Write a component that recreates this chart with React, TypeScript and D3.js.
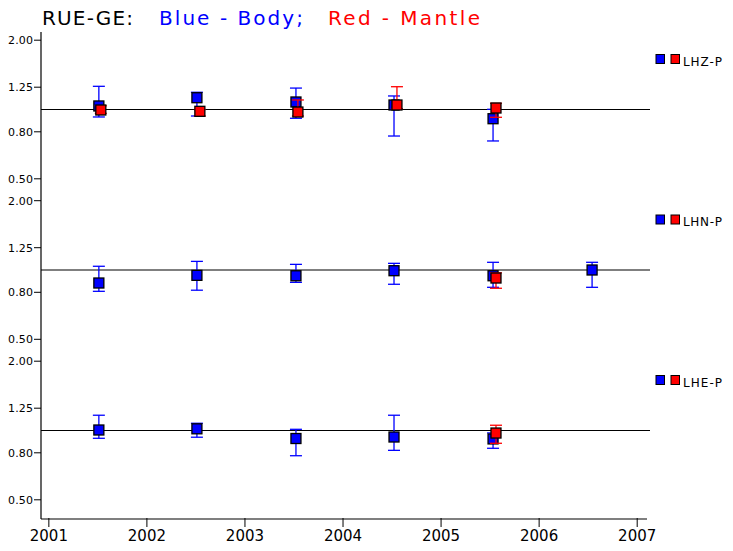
import React from "react";
import * as d3 from "d3";

// ---- data ----
const years = [2001, 2002, 2003, 2004, 2005, 2006, 2007];
const yTicks = [2.0, 1.25, 0.8, 0.5];
const channels = ["LHZ-P", "LHN-P", "LHE-P"];

// [time, value, low, high]
const bodyLHZ = [
  [2001.51, 1.036, 0.928, 1.261],
  [2002.51, 1.125, 0.937, 1.188],
  [2003.52, 1.078, 0.916, 1.239],
  [2004.52, 1.046, 0.767, 1.145],
  [2005.53, 0.912, 0.73, 1.002],
];
const mantleLHZ = [
  [2001.53, 0.995, 0.962, 1.038],
  [2002.54, 0.982, 0.937, 1.0],
  [2003.54, 0.975, 0.937, 1.1],
  [2004.55, 1.046, 1.008, 1.256],
  [2005.56, 1.015, 0.925, 1.064],
];
const bodyLHN = [
  [2001.51, 0.878, 0.808, 1.038],
  [2002.51, 0.948, 0.817, 1.09],
  [2003.52, 0.944, 0.884, 1.058],
  [2004.52, 0.993, 0.867, 1.069],
  [2005.53, 0.944, 0.841, 1.08],
  [2006.54, 1.0, 0.841, 1.08],
];
const mantleLHN = [[2005.56, 0.923, 0.833, 0.972]];
const bodyLHE = [
  [2001.51, 1.005, 0.925, 1.165],
  [2002.51, 1.017, 0.935, 1.075],
  [2003.52, 0.923, 0.777, 1.012],
  [2004.52, 0.937, 0.82, 1.165],
  [2005.53, 0.919, 0.837, 0.976],
];
const mantleLHE = [[2005.56, 0.975, 0.88, 1.054]];

const bodySeries = [bodyLHZ, bodyLHN, bodyLHE];
const mantleSeries = [mantleLHZ, mantleLHN, mantleLHE];

const BLUE = "#0000ff";
const RED = "#ff0000";
const FONT = "DejaVu Sans, sans-serif";

export default function App() {
  const W = 733;
  const H = 551;
  const axisX = 41;
  const axisRight = 647;
  const x = d3.scaleLinear().domain([2000.92, 2007.1]).range([axisX, axisRight]);
  const bottomY = 519;
  const centers = channels.map((_, i) => 109.5 + i * 160.5);

  const drawSeries = (data: number[][], y: d3.ScaleLogarithmic<number, number>, color: string, key: string) =>
    data.map((d, j) => {
      const cx = x(d[0]);
      const cy = y(d[1]);
      const yl = y(d[2]);
      const yh = y(d[3]);
      return (
        <g key={key + j}>
          <line x1={cx} x2={cx} y1={yl} y2={yh} stroke={color} strokeWidth={1.3} />
          <line x1={cx - 6} x2={cx + 6} y1={yl} y2={yl} stroke={color} strokeWidth={1.3} />
          <line x1={cx - 6} x2={cx + 6} y1={yh} y2={yh} stroke={color} strokeWidth={1.3} />
          <rect x={cx - 5} y={cy - 5} width={10} height={10} fill={color} stroke="#000" strokeWidth={1.3} />
        </g>
      );
    });

  return (
    <svg width={W} height={H} style={{ position: "absolute", left: 0, top: 0, background: "#fff" }}>
      <rect x={0} y={0} width={W} height={H} fill="#fff" />
      {/* title */}
      <g fontFamily={FONT} fontSize={20}>
        <text x={42} y={25} fill="#000" textLength={91} lengthAdjust="spacing">RUE-GE:</text>
        <text x={159} y={25} fill={BLUE} textLength={144} lengthAdjust="spacing" xmlSpace="preserve">Blue - Body;</text>
        <text x={328} y={25} fill={RED} textLength={152} lengthAdjust="spacing" xmlSpace="preserve">Red - Mantle</text>
      </g>
      {/* left axis */}
      <line x1={axisX} x2={axisX} y1={32} y2={bottomY} stroke="#000" strokeWidth={1.2} />
      {channels.map((ch, i) => {
        const C = centers[i];
        const y = d3.scaleLog().domain([0.5, 2.0]).range([C + 69.3, C - 69.3]);
        return (
          <g key={ch}>
            {yTicks.map((t) => (
              <g key={t}>
                <line x1={axisX - 7} x2={axisX} y1={y(t)} y2={y(t)} stroke="#000" strokeWidth={1} />
                <text
                  x={33}
                  y={y(t) + 4}
                  textAnchor="end"
                  fontFamily={FONT}
                  fontSize={11}
                  textLength={25}
                  lengthAdjust="spacing"
                  fill="#000"
                >
                  {t.toFixed(2)}
                </text>
              </g>
            ))}
            <line x1={axisX} x2={650} y1={y(1)} y2={y(1)} stroke="#000" strokeWidth={1.2} />
            {drawSeries(bodySeries[i], y, BLUE, ch + "b")}
            {drawSeries(mantleSeries[i], y, RED, ch + "m")}
            {/* legend */}
            <rect x={656} y={C - 55} width={8.5} height={9} fill={BLUE} stroke="#000" strokeWidth={1} />
            <rect x={671} y={C - 55} width={8.5} height={9} fill={RED} stroke="#000" strokeWidth={1} />
            <text x={683} y={C - 44} fontFamily={FONT} fontSize={12} textLength={39} lengthAdjust="spacing" fill="#000">
              {ch}
            </text>
          </g>
        );
      })}
      {/* bottom axis */}
      <line x1={axisX} x2={axisRight} y1={bottomY} y2={bottomY} stroke="#000" strokeWidth={1.2} />
      {years.map((yr) => (
        <g key={yr}>
          <line x1={x(yr)} x2={x(yr)} y1={bottomY - 1} y2={bottomY + 8} stroke="#000" strokeWidth={1} />
          <text x={x(yr)} y={541} textAnchor="middle" fontFamily={FONT} fontSize={15} fill="#000">
            {yr}
          </text>
        </g>
      ))}
    </svg>
  );
}
